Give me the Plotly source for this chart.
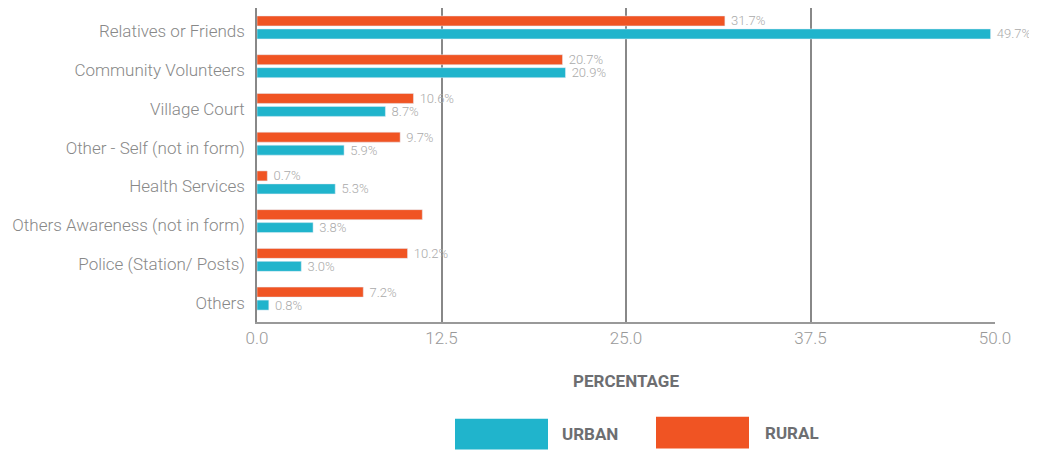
import plotly.graph_objects as go

categories = ["Relatives or Friends", "Community Volunteers", "Village Court",
              "Other - Self (not in form)", "Health Services",
              "Others Awareness (not in form)", "Police (Station/ Posts)", "Others"]
rural = [31.7, 20.7, 10.6, 9.7, 0.7, 11.2, 10.2, 7.2]
urban = [49.7, 20.9, 8.7, 5.9, 5.3, 3.8, 3.0, 0.8]
# the reference shows no label on the rural "Others Awareness" bar
rural_labels = [f" {v:.1f}%" for v in rural]
rural_labels[5] = ""
urban_labels = [f" {v:.1f}%" for v in urban]
tick_vals = [0, 12.5, 25, 37.5, 50]
tick_text = ["0.0", "12.5", "25.0", "37.5", "50.0"]

TEAL = "#20B4CC"
ORANGE = "#F05423"
FONT = "Roboto, sans-serif"

# page body has an 8px margin, so the figure is sized to fit the window without scrollbars
W, H = 1029, 442
PX0, PX1, PY0, PY1 = 257, 995, 7, 322


def px(x):
    return (x - PX0) / (PX1 - PX0)


def py(y):
    return (PY1 - y) / (PY1 - PY0)


label_font = dict(size=13, color="#aaaaaa", weight=300)

fig = go.Figure()
fig.add_trace(go.Bar(y=categories, x=rural, orientation="h", name="RURAL",
                     marker_color=ORANGE, text=rural_labels, textposition="outside",
                     textfont=label_font, constraintext="none", cliponaxis=False))
fig.add_trace(go.Bar(y=categories, x=urban, orientation="h", name="URBAN",
                     marker_color=TEAL, text=urban_labels, textposition="outside",
                     textfont=label_font, constraintext="none", cliponaxis=False))

fig.update_layout(
    width=W, height=H,
    margin=dict(l=PX0 - 8, r=W + 8 - PX1, t=0, b=H + 8 - PY1),
    barmode="group", bargap=0.33, bargroupgap=0.23,
    plot_bgcolor="white", paper_bgcolor="white",
    font=dict(family=FONT, color="#888888"),
    showlegend=False,
)
fig.update_xaxes(range=[0, 50], tickvals=tick_vals, ticktext=tick_text,
                 tickfont=dict(size=17, color="#999999", weight=300),
                 showgrid=True, gridcolor="#888888", gridwidth=1.5,
                 showline=True, linecolor="#999999", linewidth=1.5,
                 zeroline=False, ticks="",
                 title=dict(text="<b>PERCENTAGE</b>", font=dict(size=17, color="#6d6e71"),
                            standoff=28))
fig.update_yaxes(range=[7.604, -0.502], tickfont=dict(size=17, color="#888888", weight=300),
                 showline=True, linecolor="#888888", linewidth=1.5,
                 ticks="", ticklen=0, ticklabelshift=-4, ticklabelstandoff=7,
                 automargin=False)

# custom legend with large swatches
fig.add_shape(type="rect", xref="paper", yref="paper", x0=px(455), x1=px(548),
              y0=py(450), y1=py(419), fillcolor=TEAL, line_width=0)
fig.add_shape(type="rect", xref="paper", yref="paper", x0=px(656), x1=px(749),
              y0=py(449), y1=py(417), fillcolor=ORANGE, line_width=0)
fig.add_annotation(xref="paper", yref="paper", x=px(560), y=py(434),
                   text="<b>URBAN</b>", showarrow=False, xanchor="left", yanchor="middle",
                   font=dict(size=17, color="#6d6e71"))
fig.add_annotation(xref="paper", yref="paper", x=px(763), y=py(433),
                   text="<b>RURAL</b>", showarrow=False, xanchor="left", yanchor="middle",
                   font=dict(size=17, color="#6d6e71"))

fig.write_html("out.html")
